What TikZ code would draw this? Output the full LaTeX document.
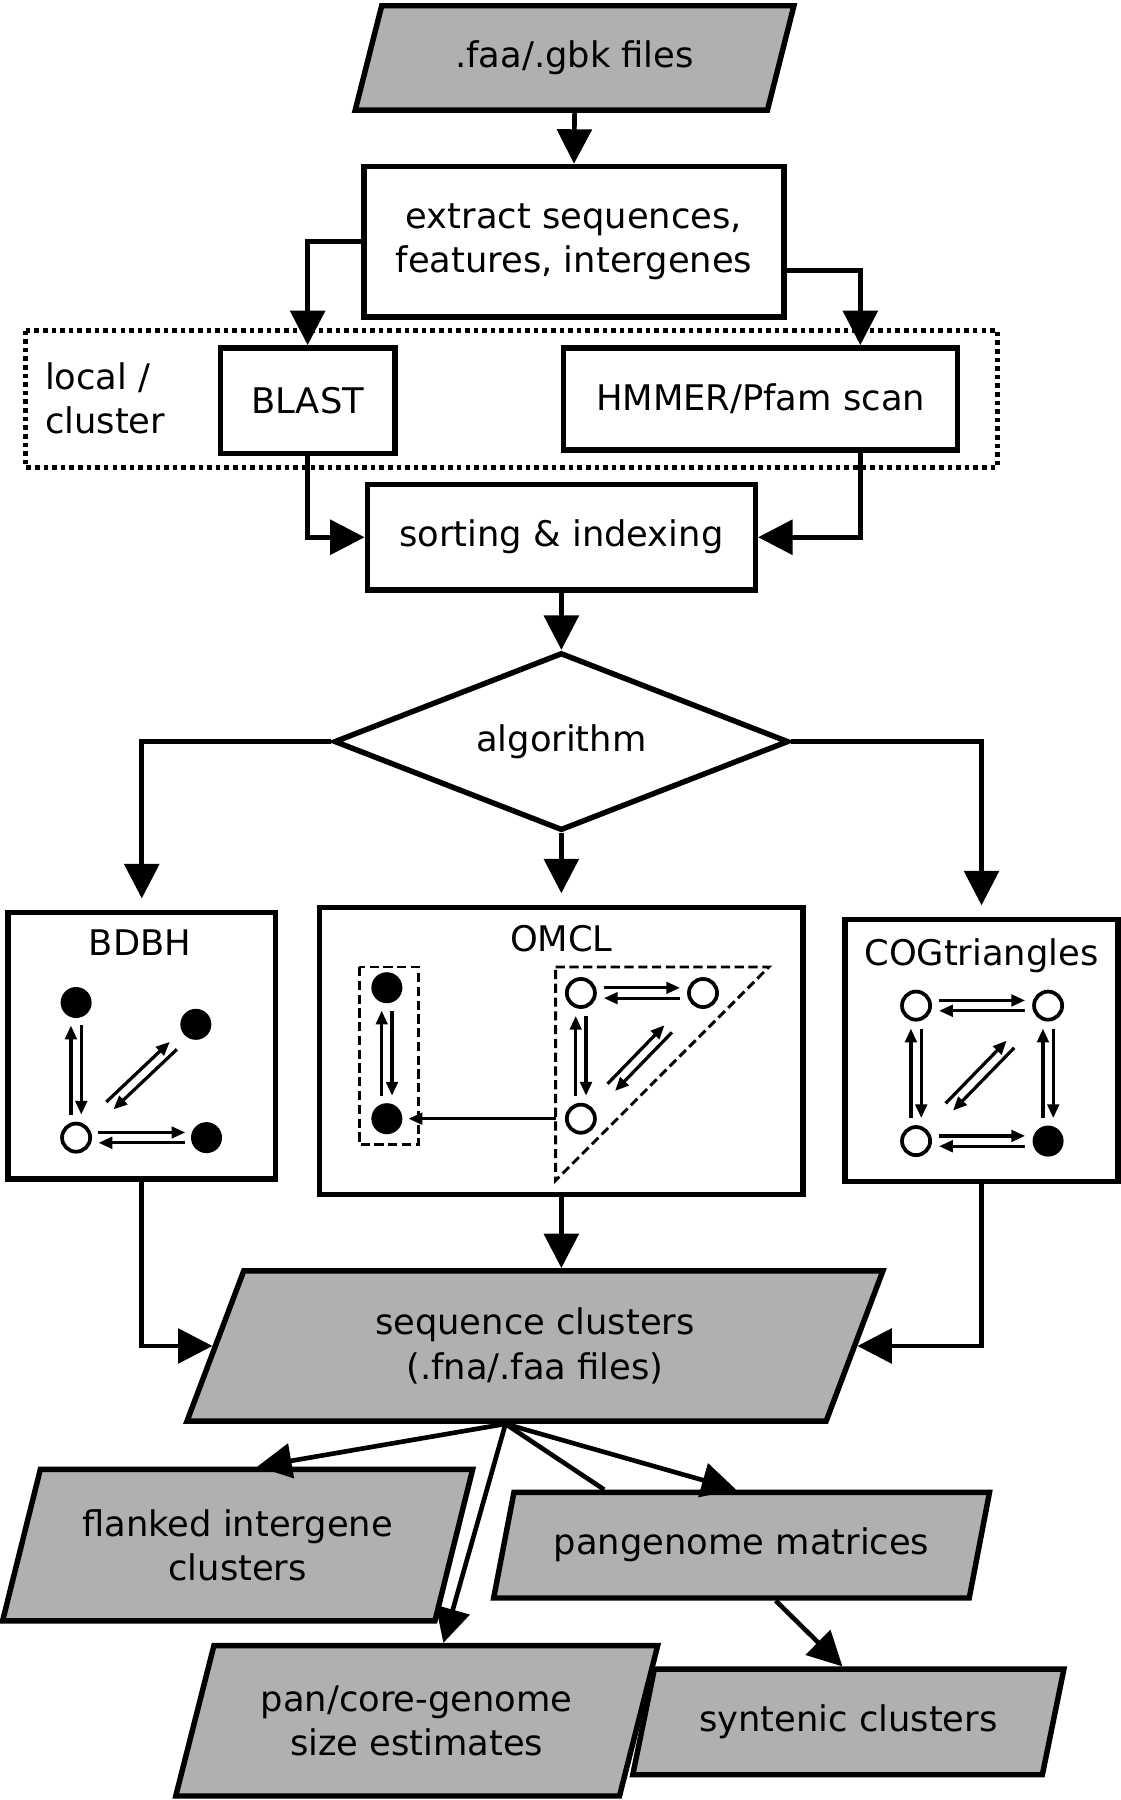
\documentclass[tikz,border=0pt]{standalone}
\usepackage{fontspec}
\setmainfont{DejaVu Sans}
\usetikzlibrary{arrows.meta,shapes.geometric,calc}
\definecolor{iogray}{RGB}{176,176,176}

% one small arrow from #1 to #2, on the left of its way
\newcommand\onearr[4]{\draw[sarr,shorten <=#3,shorten >=#4] ($(#1)!0.9mm!90:(#2)$) -- ($(#2)!0.9mm!-90:(#1)$);}
\newcommand\twoarr[4]{\onearr{#1}{#2}{#3}{#4}\onearr{#2}{#1}{#4}{#3}}

\begin{document}
\begin{tikzpicture}[x=0.2mm, y=-0.2mm,
  every node/.style={font=\fontsize{17.5}{22}\selectfont, align=center},
  box/.style={draw, line width=2.7pt},
  io/.style={trapezium, trapezium left angle=70, trapezium right angle=110,
    trapezium stretches=true, draw, fill=iogray, line width=2.7pt},
  decision/.style={diamond, aspect=2.55, draw, line width=2.7pt},
  arr/.style={line width=2.3pt, -{Triangle[length=6mm,width=6mm]}},
  sarr/.style={line width=1.6pt, -{Triangle[length=2.4mm,width=2mm]}},
  fdot/.style={circle, fill=black, minimum size=5.4mm, inner sep=0pt},
  odot/.style={circle, draw, line width=0.65mm, minimum size=4.9mm, inner sep=0pt},
  grp/.style={line width=0.5mm, dash pattern=on 1.6mm off 0.8mm}]
  \useasboundingbox (0,0) rectangle (976,1568);

  % input and searches
  \node[io, minimum width=76.6mm, minimum height=18.2mm] (files) at (500.5,50.5) {.faa/.gbk files};
  \node[box, minimum width=73.2mm, minimum height=26.2mm] (extract) at (500,210.5) {extract sequences,\\features, intergenes};
  \draw[line width=0.8mm, dash pattern=on 0.8mm off 0.7mm] (22,288) rectangle (869,407); % local / cluster
  \node[anchor=west, align=left] (local) at (33,347) {local /\\cluster};
  \node[box, minimum width=30.4mm, minimum height=18.4mm] (blast) at (268,349) {BLAST};
  \node[box, minimum width=68.6mm, minimum height=17.8mm] (hmmer) at (662.5,347.5) {HMMER/Pfam scan};
  \node[box, minimum width=67.6mm, minimum height=18.4mm] (sort) at (489,468) {sorting \& indexing};
  \node[decision, minimum width=79.2mm, minimum height=31mm] (algo) at (489,646) {algorithm};

  % BDBH
  \node[box, minimum width=46.6mm, minimum height=46.4mm] (bdbh) at (123.5,911) {};
  \node (bdbhT) at (122,821) {BDBH};
  \node[odot] (b0) at (66.3,991) {};
  \node[fdot] (b1) at (66.3,873.3) {};
  \node[fdot] (b2) at (170.6,892.3) {};
  \node[fdot] (b3) at (179.9,991) {};
  \twoarr{b0}{b1}{4mm}{4mm}
  \twoarr{b0}{b2}{8.1mm}{5.4mm}
  \twoarr{b0}{b3}{3.9mm}{3.7mm}

  % OMCL
  \node[box, minimum width=84.2mm, minimum height=50mm] (omcl) at (489,915.5) {};
  \node (omclT) at (489,818) {OMCL};
  \draw[grp] (312.8,842.4) rectangle (364.8,997);
  \draw[grp] (484,842.4) -- (669.8,842.4) -- (484,1028.3) -- cycle;
  \node[fdot] (f1) at (337,860.4) {};
  \node[fdot] (f2) at (337,974.5) {};
  \node[odot] (o1) at (506,865) {};
  \node[odot] (o2) at (612.4,865) {};
  \node[odot] (o3) at (506,974.5) {};
  \twoarr{f2}{f1}{4mm}{4mm}
  \twoarr{o1}{o2}{4mm}{4mm}
  \twoarr{o3}{o1}{4mm}{4mm}
  \twoarr{o3}{o2}{7.6mm}{8.7mm}
  \draw[sarr, shorten <=1.6mm, shorten >=1mm] (o3.west) -- (f2.east);

  % COGtriangles
  \node[box, minimum width=47.6mm, minimum height=45.6mm] (cog) at (855,915) {};
  \node (cogT) at (855,833) {COGtriangles};
  \node[odot] (c0) at (798,876) {};
  \node[odot] (c1) at (913,876) {};
  \node[odot] (c3) at (798,994) {};
  \node[fdot] (c2) at (913,994) {};
  \twoarr{c0}{c1}{4mm}{4mm}
  \twoarr{c3}{c0}{4mm}{4mm}
  \twoarr{c2}{c1}{4mm}{4mm}
  \twoarr{c3}{c2}{4mm}{4mm}
  \twoarr{c3}{c1}{8.3mm}{9.4mm}

  % outputs
  \node[io, minimum width=121.6mm, minimum height=26.2mm] (seq) at (466,1172.5) {sequence clusters\\(.fna/.faa files)};
  \node[io, minimum width=82mm, minimum height=26.4mm] (flanked) at (207,1346) {flanked intergene\\clusters};
  \node[io, minimum width=86.4mm, minimum height=18.4mm] (pangen) at (646,1346) {pangenome matrices};
  \node[io, minimum width=84mm, minimum height=26.2mm] (pancore) at (363,1499) {pan/core-genome\\size estimates};
  \node[io, minimum width=75.2mm, minimum height=18.4mm] (syn) at (739,1500) {syntenic clusters};

  \draw[arr] (files.south) -- (extract.north);
  \draw[arr] (extract.west) -| (blast.north);
  \draw[arr] ($(extract.east)!.37!(extract.south east)$) -| ($(hmmer.north)!.5!(hmmer.north east)$);
  \draw[arr] (blast.south) |- (sort.west);
  \draw[arr] ($(hmmer.south)!.5!(hmmer.south east)$) |- (sort.east);
  \draw[arr] (sort.south) -- (algo.north);
  \draw[arr, shorten >=2mm] (algo.west) -| (bdbh.north);
  \draw[arr, shorten >=2mm] (algo.south) -- (omcl.north);
  \draw[arr, shorten >=2mm] (algo.east) -| (cog.north);
  \draw[arr] (bdbh.south) |- (seq.left side);
  \draw[arr] (omcl.south) -- (omcl.south |- seq.top side);
  \draw[arr] (cog.south) |- (seq.right side);
  \draw[arr] (seq.bottom side) -- (flanked.top side);
  \draw[arr] (seq.bottom side) -- ($(pancore.top side)+(6,0)$);
  \draw[line width=2.3pt] (seq.bottom side) -- ($(pangen.top side)+(-129,0)$);
  \draw[arr] (seq.bottom side) -- ($(pangen.top side)+(-14,0)$);
  \draw[arr] ($(pangen.bottom side)+(39,0)$) -- ($(syn.top side)+(-15,0)$);
\end{tikzpicture}
\end{document}
